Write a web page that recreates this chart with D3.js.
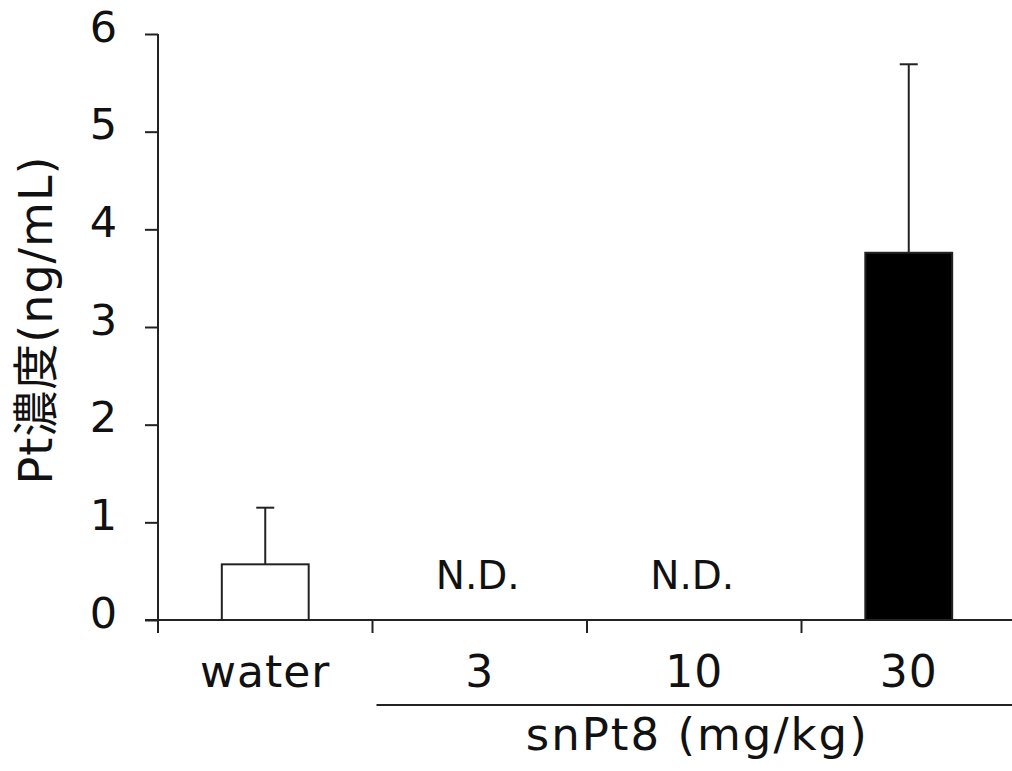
<!DOCTYPE html>
<html>
<head>
<meta charset="utf-8">
<script src="https://cdn.jsdelivr.net/npm/d3@7"></script>
<style>
  body { margin: 0; background: #fff; }
  text { font-family: "DejaVu Sans", "Noto Sans CJK JP", sans-serif; fill: #111; }
</style>
</head>
<body>
<div id="chart"></div>
<script>
// data
var categories = ["water", "3", "10", "30"];
var means = [0.57, null, null, 3.76];
var errors = [0.58, null, null, 1.93];
var fills = ["#fff", null, null, "#000"];
var yTicks = [0, 1, 2, 3, 4, 5, 6];

var w = 1012, h = 771;

var svg = d3.select("#chart").append("svg")
    .attr("width", w)
    .attr("height", h);

var xScale = d3.scaleBand().domain(categories).range([158, 1016]).padding(0);
var yScale = d3.scaleLinear().domain([0, 6]).range([620, 34]);

var barW = xScale.bandwidth() * 0.405;

// y axis
var yAxis = d3.axisLeft(yScale)
    .tickValues(yTicks)
    .tickFormat(d3.format("d"))
    .tickSize(13)
    .tickSizeOuter(0)
    .tickPadding(28);

var yG = svg.append("g")
    .attr("transform", "translate(158,0)")
    .call(yAxis);
yG.selectAll("path, line").attr("stroke", "#222").attr("stroke-width", 2);
yG.selectAll("text")
    .attr("font-size", 43)
    .attr("dy", "0.17em");
yG.select(".domain").attr("d", "M0," + yScale(6) + "V633");

// x axis line + boundary ticks
svg.append("line")
    .attr("x1", 145).attr("x2", w)
    .attr("y1", yScale(0)).attr("y2", yScale(0))
    .attr("stroke", "#222").attr("stroke-width", 2);

svg.selectAll(".xtick")
    .data(categories)
    .enter().append("line")
    .attr("class", "xtick")
    .attr("x1", function (d) { return xScale(d); })
    .attr("x2", function (d) { return xScale(d); })
    .attr("y1", yScale(0))
    .attr("y2", yScale(0) + 13)
    .attr("stroke", "#222").attr("stroke-width", 2);

// category labels
svg.selectAll(".xlabel")
    .data(categories)
    .enter().append("text")
    .attr("class", "xlabel")
    .attr("x", function (d) { return xScale(d) + xScale.bandwidth() / 2; })
    .attr("y", 687)
    .attr("text-anchor", "middle")
    .attr("font-size", 44)
    .attr("letter-spacing", 1)
    .text(function (d) { return d; });

// group underline + label
svg.append("line")
    .attr("x1", xScale("3") + 4).attr("x2", w)
    .attr("y1", 705).attr("y2", 705)
    .attr("stroke", "#222").attr("stroke-width", 2);

svg.append("text")
    .attr("x", (xScale("3") + 4 + w) / 2 + 3)
    .attr("y", 750)
    .attr("text-anchor", "middle")
    .attr("font-size", 45)
    .attr("letter-spacing", 2)
    .text("snPt8 (mg/kg)");

var rows = categories.map(function (c, i) {
    return { cat: c, mean: means[i], err: errors[i], fill: fills[i] };
});

// error bars (drawn first so bar sits on top)
var withData = rows.filter(function (d) { return d.mean !== null; });

svg.selectAll(".err")
    .data(withData)
    .enter().append("line")
    .attr("class", "err")
    .attr("x1", function (d) { return xScale(d.cat) + xScale.bandwidth() / 2; })
    .attr("x2", function (d) { return xScale(d.cat) + xScale.bandwidth() / 2; })
    .attr("y1", function (d) { return yScale(d.mean); })
    .attr("y2", function (d) { return yScale(d.mean + d.err); })
    .attr("stroke", "#222").attr("stroke-width", 2);

svg.selectAll(".cap")
    .data(withData)
    .enter().append("line")
    .attr("class", "cap")
    .attr("x1", function (d) { return xScale(d.cat) + xScale.bandwidth() / 2 - 9; })
    .attr("x2", function (d) { return xScale(d.cat) + xScale.bandwidth() / 2 + 9; })
    .attr("y1", function (d) { return yScale(d.mean + d.err); })
    .attr("y2", function (d) { return yScale(d.mean + d.err); })
    .attr("stroke", "#222").attr("stroke-width", 2);

svg.selectAll(".bar")
    .data(withData)
    .enter().append("rect")
    .attr("class", "bar")
    .attr("x", function (d) { return xScale(d.cat) + (xScale.bandwidth() - barW) / 2; })
    .attr("width", barW)
    .attr("y", function (d) { return yScale(d.mean); })
    .attr("height", function (d) { return yScale(0) - yScale(d.mean); })
    .attr("fill", function (d) { return d.fill; })
    .attr("stroke", "#222")
    .attr("stroke-width", 2);

// not detected labels
svg.selectAll(".nd")
    .data(rows.filter(function (d) { return d.mean === null; }))
    .enter().append("text")
    .attr("class", "nd")
    .attr("x", function (d) { return xScale(d.cat) + xScale.bandwidth() / 2 - 2; })
    .attr("y", 589)
    .attr("text-anchor", "middle")
    .attr("font-size", 39)
    .text("N.D.");

// y axis title
svg.append("text")
    .attr("transform", "translate(52,320) rotate(-90)")
    .attr("text-anchor", "middle")
    .attr("font-size", 46)
    .attr("letter-spacing", 1)
    .text("Pt濃度(ng/mL)");
</script>
</body>
</html>
